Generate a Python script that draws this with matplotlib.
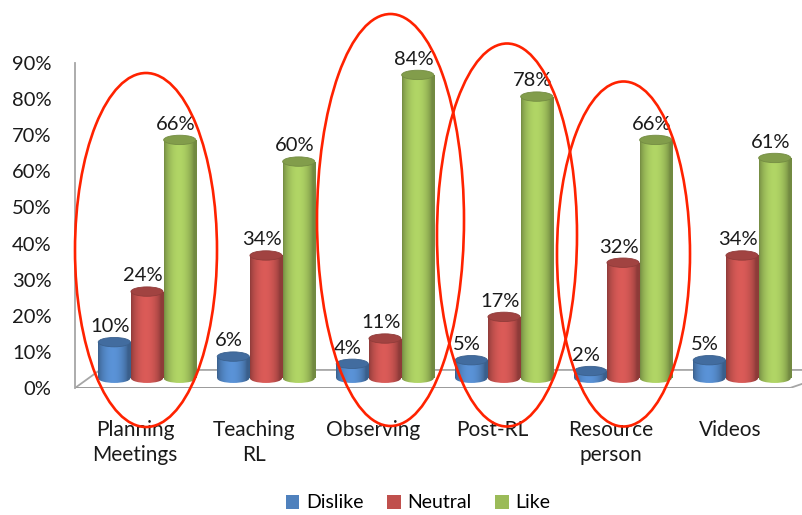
import numpy as np
import matplotlib
matplotlib.use("Agg")
import matplotlib.pyplot as plt
from matplotlib.patches import Ellipse, Patch, Polygon

plt.rcParams['font.family'] = ['Lato', 'DejaVu Sans']

categories = ["Planning\nMeetings", "Teaching\nRL", "Observing", "Post-RL", "Resource\nperson", "Videos"]
series = ["Dislike", "Neutral", "Like"]
dislike = [10, 6, 4, 5, 2, 5]
neutral = [24, 34, 11, 17, 32, 34]
like = [66, 60, 84, 78, 66, 61]
colors = ["#4f81bd", "#c0504d", "#9bbb59"]
yticks = [0, 10, 20, 30, 40, 50, 60, 70, 80, 90]

# highlighted groups: (center x, width, center y, height) in figure pixels of the original slide
circled = [(146, 142, 250, 354), (390.5, 147, 220, 412), (507, 140, 235, 383), (623.5, 133, 254, 345)]

W, H = 803, 515
PX_X = 119.0          # pixels per category
X0 = 147.0            # pixel x of first group center
AX_L, AX_B, AX_T = 75, 388, 63
PX_Y = (AX_B - AX_T) / 90.0

BW = 0.27             # bar width (category units)
BASE = 2.7            # bars stand in the middle of the 3d floor
EH = 2.6              # ellipse height (data units)
DEPTH = 5.0           # floor depth in data units


def shade(rgb, f):
    return np.clip(np.array(rgb) * f, 0, 1)


def cylinder(ax, rect, color, z):
    rgb = matplotlib.colors.to_rgb(color)
    x0, x1 = rect.get_x(), rect.get_x() + rect.get_width()
    y0, y1 = rect.get_y(), rect.get_y() + rect.get_height()
    u = np.linspace(0, 1, 64)
    prof = 0.74 + 0.40 * np.sin(np.pi * np.clip(u * 1.1, 0, 1)) ** 0.7
    grad = np.array([shade(rgb, f) for f in prof])[None, :, :]
    bottom = Ellipse(((x0 + x1) / 2, y0), x1 - x0, EH, transform=ax.transData)
    for clip in (rect, bottom):
        im = ax.imshow(grad, extent=(x0, x1, y0 - EH, y1), aspect="auto",
                       interpolation="bilinear", zorder=z)
        im.set_clip_path(clip)
    ax.add_patch(Ellipse(((x0 + x1) / 2, y1), x1 - x0, EH, facecolor=shade(rgb, 0.84),
                         edgecolor=shade(rgb, 0.75), lw=0.6, zorder=z + 0.1))


fig = plt.figure(figsize=(W / 100, H / 100), dpi=100)
ax = fig.add_axes([AX_L / W, (H - AX_B) / H, (W - AX_L) / W, (AX_B - AX_T) / H])
xlim = (-(X0 - AX_L) / PX_X, (W - X0) / PX_X)

x = np.arange(len(categories))
# 3d floor
floor = Polygon([(xlim[0], 0), (xlim[0] + 25 / PX_X, DEPTH), (xlim[1] + 40 / PX_X, DEPTH),
                 (xlim[1] - 13 / PX_X, 0)], closed=True, facecolor="white",
                edgecolor="#a6a6a6", lw=1.3, zorder=1)
ax.add_patch(floor)
ax.plot([xlim[0], xlim[1] - 13 / PX_X], [0, 0], color="#9a9a9a", lw=2.0, zorder=1.5,
        solid_capstyle="butt")

for k, (name, vals) in enumerate(zip(series, [dislike, neutral, like])):
    xs = x + (k - 1) * 0.275
    bars = ax.bar(xs, vals, width=BW, bottom=BASE, color="none", edgecolor="none")
    for rect, v, xc in zip(bars, vals, xs):
        cylinder(ax, rect, colors[k], 3 + k)
        ax.text(xc - 0.035, BASE + v + 2.8, f"{v}%", ha="center", va="baseline",
                fontsize=14.5, color="#1a1a1a", zorder=10)

for cx, w, cy, h in circled:
    ax.add_patch(Ellipse(((cx - X0) / PX_X, (AX_B - cy) / PX_Y), w / PX_X, h / PX_Y,
                         facecolor="none", edgecolor="#ff2200", lw=1.9, zorder=12,
                         clip_on=False))

ax.set_xlim(*xlim)
ax.set_ylim(0, 90)
ax.set_yticks(yticks)
ax.set_yticklabels([f"{t}%" for t in yticks], fontsize=14.5, color="#1a1a1a")
ax.set_xticks(x - 0.1)
ax.set_xticklabels(categories, fontsize=15, color="#1a1a1a", linespacing=1.3)
ax.tick_params(axis="y", length=0, pad=17)
ax.tick_params(axis="x", length=0, pad=23)
for s in ("top", "right", "bottom"):
    ax.spines[s].set_visible(False)
ax.spines["left"].set_color("#a6a6a6")
ax.spines["left"].set_linewidth(1.3)
ax.set_facecolor("none")

handles = [Patch(facecolor=c, edgecolor="none") for c in colors]
fig.legend(handles, series, loc="center", bbox_to_anchor=(418 / W, 12 / H), ncol=3,
           frameon=False, fontsize=14, handlelength=0.7, handleheight=0.7,
           handletextpad=0.35, columnspacing=1.2)

fig.savefig("out.png", dpi=100)
